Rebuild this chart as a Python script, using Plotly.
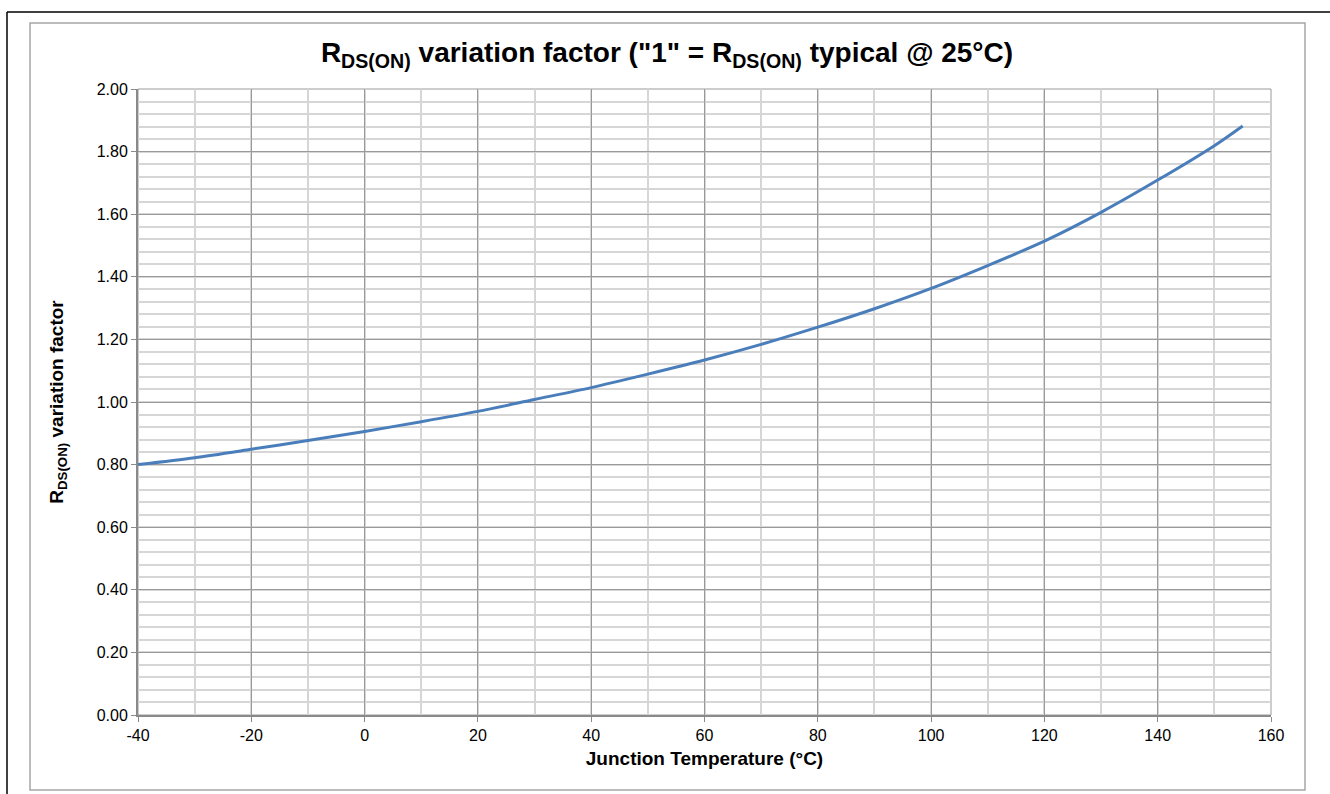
import plotly.graph_objects as go

temperature_c = [-40, -30, -20, -10, 0, 10, 20, 30, 40, 50, 60, 70, 80, 90,
                 100, 110, 120, 130, 140, 150, 155]
variation_factor = [0.800, 0.822, 0.849, 0.877, 0.906, 0.937, 0.970, 1.008,
                    1.046, 1.089, 1.134, 1.184, 1.239, 1.298, 1.363, 1.436,
                    1.514, 1.606, 1.709, 1.819, 1.882]

x_ticks = [-40, -20, 0, 20, 40, 60, 80, 100, 120, 140, 160]
y_ticks = [0.0, 0.2, 0.4, 0.6, 0.8, 1.0, 1.2, 1.4, 1.6, 1.8, 2.0]

title_text = "R<sub>DS(ON)</sub> variation factor (\"1\" = R<sub>DS(ON)</sub> typical @ 25°C)"
x_title = "Junction Temperature (°C)"
y_title = "R<sub>DS(ON)</sub> variation factor"

W, H = 1330, 794
L, R, T, B = 138, 59, 89, 79
pw, ph = W - L - R, H - T - B

def px(xp):
    return (xp - L) / pw

def py(yp):
    return (H - B - yp) / ph

fig = go.Figure()
fig.add_trace(go.Scatter(
    x=temperature_c, y=variation_factor, mode="lines",
    line=dict(color="#4a7ebb", width=3, shape="spline", smoothing=0.8),
    showlegend=False, hoverinfo="x+y"))

font_family = "Liberation Sans, Arial, sans-serif"

fig.update_layout(
    width=W, height=H,
    margin=dict(l=L, r=R, t=T, b=B),
    paper_bgcolor="white", plot_bgcolor="white",
    font=dict(family=font_family, color="black", size=16),
    title=dict(text="<b>" + title_text + "</b>", xref="container", yref="container",
               x=667 / W, y=1 - 52 / H, xanchor="center", yanchor="middle",
               font=dict(size=28, family=font_family, color="black")),
    xaxis=dict(range=[-40, 160], tickvals=x_ticks, ticktext=[str(v) for v in x_ticks],
               showgrid=True, gridcolor="#9a9a9a", gridwidth=1,
               minor=dict(dtick=10, tick0=0, showgrid=True, gridcolor="#d6d6d6", gridwidth=1.5),
               showline=True, linecolor="#8a8a8a", linewidth=2,
               ticks="outside", ticklen=5, tickcolor="#8a8a8a", tickwidth=1,
               tickfont=dict(size=16), zeroline=False, mirror=False,
               title=dict(text="<b>" + x_title + "</b>", font=dict(size=19), standoff=8)),
    yaxis=dict(range=[0, 2.0], tickvals=y_ticks, ticktext=["%.2f" % v for v in y_ticks],
               showgrid=True, gridcolor="#9a9a9a", gridwidth=1,
               minor=dict(dtick=0.04, tick0=0, showgrid=True, gridcolor="#d6d6d6", gridwidth=1.5),
               showline=True, linecolor="#8a8a8a", linewidth=2,
               ticks="outside", ticklen=5, tickcolor="#8a8a8a", tickwidth=1,
               tickfont=dict(size=16), zeroline=False,
               title=dict(text="<b>" + y_title + "</b>", font=dict(size=19), standoff=28)),
)

# top/right plot border
fig.add_shape(type="rect", xref="paper", yref="paper", x0=0, x1=1, y0=0, y1=1,
              line=dict(color="#9a9a9a", width=1), layer="below")
# outer gray frame
fig.add_shape(type="rect", xref="paper", yref="paper",
              x0=px(30), x1=px(1305), y0=py(790), y1=py(23),
              line=dict(color="#a6a6a6", width=1.5))
# outer black frame lines (top and left)
fig.add_shape(type="line", xref="paper", yref="paper",
              x0=px(7), x1=px(1330), y0=py(12), y1=py(12),
              line=dict(color="black", width=1.5))
fig.add_shape(type="line", xref="paper", yref="paper",
              x0=px(7), x1=px(7), y0=py(12), y1=py(794),
              line=dict(color="black", width=1.5))

fig.write_html("out.html", config={"displayModeBar": False},
               post_script="document.body.style.margin='0';document.body.style.overflow='hidden';")
